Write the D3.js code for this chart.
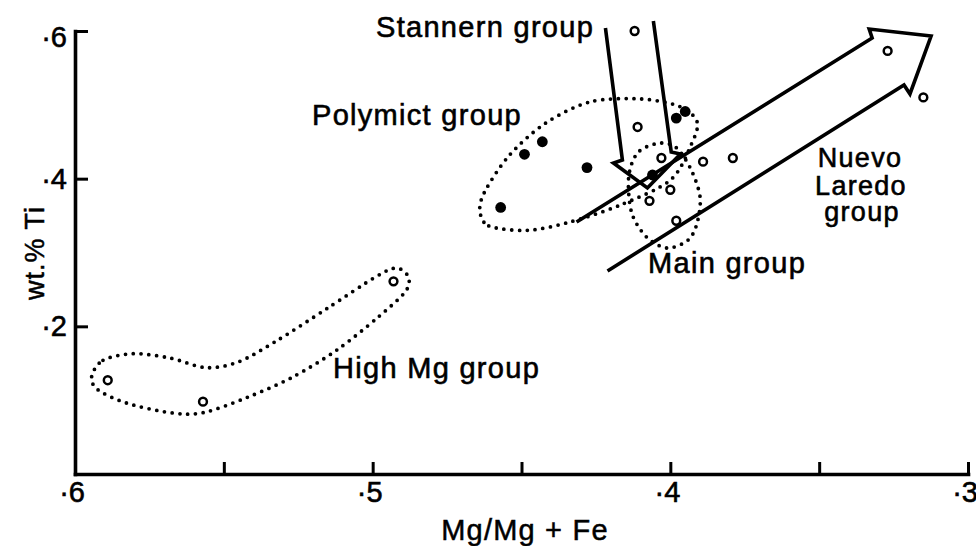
<!DOCTYPE html>
<html><head><meta charset="utf-8">
<script src="https://cdn.jsdelivr.net/npm/d3@7"></script>
<style>
html,body{margin:0;padding:0;background:#fff;}
svg{display:block;}
text{font-family:"Liberation Sans",Arial,sans-serif;fill:#000;}
</style></head>
<body><svg id="c" width="976" height="546"></svg>
<script>
// ---- data (x = Mg/(Mg+Fe), y = wt.% Ti) ----
const xTicks = [0.6, 0.55, 0.5, 0.45, 0.4, 0.35, 0.3];
const xTickLabels = ["·6", "", "·5", "", "·4", "", "·3"];
const yTicks = [0.2, 0.4, 0.6];
const yTickLabels = ["·2", "·4", "·6"];

const openX = [0.589, 0.557, 0.493, 0.412, 0.411, 0.403, 0.389, 0.379, 0.400, 0.407, 0.398, 0.327, 0.315];
const openY = [0.127, 0.098, 0.261, 0.600, 0.470, 0.428, 0.423, 0.428, 0.385, 0.370, 0.343, 0.573, 0.510];
const filledX = [0.457, 0.449, 0.443, 0.428, 0.406, 0.398, 0.395];
const filledY = [0.361, 0.433, 0.450, 0.415, 0.405, 0.482, 0.491];

const polymictX = [0.464, 0.461, 0.448, 0.434, 0.417, 0.400, 0.393, 0.391, 0.397, 0.410, 0.427, 0.442, 0.454, 0.462];
const polymictY = [0.358, 0.336, 0.330, 0.341, 0.364, 0.398, 0.446, 0.477, 0.498, 0.508, 0.504, 0.475, 0.432, 0.385];
const mainX = [0.404, 0.398, 0.393, 0.390, 0.391, 0.394, 0.401, 0.408, 0.413, 0.414, 0.411];
const mainY = [0.448, 0.442, 0.412, 0.375, 0.340, 0.317, 0.306, 0.321, 0.354, 0.402, 0.435];
const highMgX = [0.5944, 0.5906, 0.5805, 0.568, 0.556, 0.545, 0.532, 0.515, 0.499, 0.492, 0.488, 0.489, 0.498, 0.512, 0.527, 0.542, 0.557, 0.568, 0.5826, 0.5923];
const highMgY = [0.132, 0.154, 0.163, 0.157, 0.144, 0.152, 0.181, 0.225, 0.267, 0.279, 0.267, 0.247, 0.213, 0.168, 0.131, 0.104, 0.083, 0.083, 0.096, 0.114];

const stannernArrowX = [0.4218, 0.4161, 0.4191, 0.4077, 0.3966, 0.3997, 0.4057];
const stannernArrowY = [0.604, 0.4253, 0.4212, 0.3874, 0.4334, 0.4361, 0.6136];
const nuevoArrowX = [0.4315, 0.3322, 0.3332, 0.3124, 0.3195, 0.3215, 0.4211];
const nuevoArrowY = [0.3413, 0.5905, 0.6027, 0.5932, 0.5147, 0.5269, 0.2750];

// ---- drawing ----
const svg = d3.select("#c");
const x = d3.scaleLinear().domain([0.6, 0.3]).range([75, 968]);
const y = d3.scaleLinear().domain([0, 0.6]).range([474, 31]);
const zip = (xs, ys) => xs.map((v, i) => [x(v), y(ys[i])]);

// axes
const gx = svg.append("g").attr("transform", `translate(0,${y(0)})`)
  .call(d3.axisBottom(x).tickValues(xTicks).tickSizeInner(-12).tickSizeOuter(0).tickFormat(""));
const gy = svg.append("g").attr("transform", `translate(${x(0.6)},0)`)
  .call(d3.axisLeft(y).tickValues(yTicks).tickSizeInner(-13).tickSizeOuter(0).tickFormat(""));
[gx, gy].forEach(g => {
  g.select(".domain").attr("stroke", "#000").attr("stroke-width", 3.6).attr("stroke-linecap", "square");
  g.selectAll(".tick line").attr("stroke", "#000").attr("stroke-width", 3);
});

svg.append("g").selectAll("text").data(xTicks).join("text")
  .attr("x", d => x(d) + 10).attr("y", y(0) + 28)
  .attr("text-anchor", "end").attr("font-size", 29)
  .attr("stroke", "#000").attr("stroke-width", 0.6)
  .text((d, i) => xTickLabels[i]);
svg.append("g").selectAll("text").data(yTicks).join("text")
  .attr("x", x(0.6) - 8).attr("y", d => Math.max(y(d) + 10, y(0.6) + 16))
  .attr("text-anchor", "end").attr("font-size", 29)
  .attr("stroke", "#000").attr("stroke-width", 0.6)
  .text((d, i) => yTickLabels[i]);

// axis titles
svg.append("text").attr("x", 525).attr("y", 540).attr("text-anchor", "middle")
  .attr("font-size", 29).attr("letter-spacing", 1.2)
  .attr("stroke", "#000").attr("stroke-width", 0.5).text("Mg/Mg + Fe");
svg.append("text").attr("transform", "translate(44,253) rotate(-90)").attr("text-anchor", "middle")
  .attr("font-size", 27).attr("letter-spacing", 1)
  .attr("stroke", "#000").attr("stroke-width", 0.5).text("wt.% Ti");

// dotted group outlines
const closed = d3.line().curve(d3.curveCardinalClosed.tension(0.1));
[[polymictX, polymictY], [mainX, mainY], [highMgX, highMgY]].forEach(([xs, ys]) => {
  svg.append("path").attr("d", closed(zip(xs, ys)))
    .attr("fill", "none").attr("stroke", "#000").attr("stroke-width", 3.8)
    .attr("stroke-linecap", "round").attr("stroke-dasharray", "0 7.8");
});

// arrows
const open = d3.line();
[[stannernArrowX, stannernArrowY], [nuevoArrowX, nuevoArrowY]].forEach(([xs, ys]) => {
  svg.append("path").attr("d", open(zip(xs, ys)))
    .attr("fill", "none").attr("stroke", "#000").attr("stroke-width", 3.6)
    .attr("stroke-linejoin", "miter");
});

// points
svg.append("g").selectAll("circle").data(zip(openX, openY)).join("circle")
  .attr("cx", d => d[0]).attr("cy", d => d[1]).attr("r", 3.9)
  .attr("fill", "#fff").attr("stroke", "#000").attr("stroke-width", 2.5);
svg.append("g").selectAll("circle").data(zip(filledX, filledY)).join("circle")
  .attr("cx", d => d[0]).attr("cy", d => d[1]).attr("r", 5.4).attr("fill", "#000");

// group labels
const lab = (t, xx, yy, anchor, fs) => svg.append("text").attr("x", xx).attr("y", yy)
  .attr("text-anchor", anchor || "start").attr("font-size", fs || 29).attr("letter-spacing", 1.3)
  .attr("stroke", "#000").attr("stroke-width", 0.6).text(t);
lab("Stannern group", 376, 37);
lab("Polymict group", 312, 125);
lab("Nuevo", 860, 167, "middle", 27);
lab("Laredo", 861, 195, "middle", 27);
lab("group", 862, 221, "middle", 27);
lab("Main group", 648, 273);
lab("High Mg group", 333, 378);
</script></body></html>
